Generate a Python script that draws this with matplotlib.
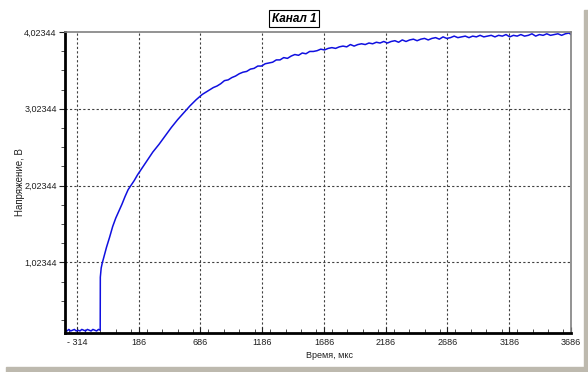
import matplotlib
matplotlib.use("Agg")
import matplotlib.pyplot as plt
from matplotlib.ticker import FixedLocator, MultipleLocator
from matplotlib.patches import Rectangle

plt.rcParams['font.family'] = ['Liberation Sans', 'DejaVu Sans']

# Канал 1: время (мкс) и напряжение (В)
t_base = [-411, -395, -380, -365, -350, -335, -320, -305, -290, -275, -260, -245, -230,
          -215, -200, -185, -170, -155, -140, -126]
v_base = [0.14, 0.13, 0.15, 0.13, 0.14, 0.15, 0.13, 0.14, 0.13, 0.15, 0.14, 0.13, 0.15,
          0.14, 0.13, 0.15, 0.14, 0.13, 0.15, 0.14]

t_jump = [-125, -118, -110]
v_jump = [0.83, 0.95, 1.01]

t_rise = [-100, -75, -50, -25, 0, 25, 50, 75, 100, 125, 150, 175, 200, 250, 300, 350, 400,
          450, 500, 550, 600, 650, 700, 730, 760, 790, 820, 850, 880, 910, 940, 970, 1000,
          1030, 1060, 1090, 1120, 1150, 1180, 1210, 1240, 1270, 1300, 1330, 1360, 1390,
          1420, 1450, 1480, 1510, 1540, 1570, 1600, 1630, 1660, 1690, 1720, 1750, 1780,
          1810, 1840, 1870, 1900, 1930, 1960, 1990, 2020, 2050, 2080, 2110, 2140, 2170,
          2200, 2230, 2260, 2290, 2320, 2350, 2380, 2410, 2440, 2470, 2500, 2530, 2560,
          2590, 2620, 2650, 2680, 2710, 2740, 2770, 2800, 2830, 2860, 2890, 2920, 2950,
          2980, 3010, 3040, 3070, 3100, 3130, 3160, 3190, 3220, 3250, 3280, 3310, 3340,
          3370, 3400, 3430, 3460, 3490, 3520, 3550, 3580, 3610, 3640, 3670, 3686]
v_rise = [1.07, 1.22, 1.35, 1.49, 1.60, 1.69, 1.78, 1.88, 1.97, 2.03, 2.09, 2.16, 2.22,
          2.34, 2.46, 2.56, 2.67, 2.78, 2.88, 2.97, 3.06, 3.14, 3.21, 3.24, 3.27, 3.30,
          3.32, 3.35, 3.39, 3.40, 3.43, 3.45, 3.48, 3.50, 3.51, 3.54, 3.55, 3.58, 3.58,
          3.61, 3.62, 3.63, 3.66, 3.66, 3.69, 3.68, 3.71, 3.73, 3.72, 3.75, 3.74, 3.77,
          3.77, 3.78, 3.80, 3.79, 3.81, 3.82, 3.81, 3.83, 3.84, 3.83, 3.86, 3.84, 3.86,
          3.87, 3.86, 3.88, 3.87, 3.89, 3.88, 3.90, 3.88, 3.90, 3.91, 3.89, 3.92, 3.90,
          3.92, 3.93, 3.91, 3.93, 3.94, 3.92, 3.94, 3.95, 3.93, 3.96, 3.94, 3.95, 3.97,
          3.95, 3.96, 3.97, 3.95, 3.97, 3.96, 3.98, 3.96, 3.97, 3.98, 3.96, 3.98, 3.97,
          3.99, 3.96, 3.98, 3.97, 3.99, 3.97, 3.98, 4.00, 3.97, 3.99, 3.98, 4.00, 3.98,
          3.99, 4.00, 3.98, 4.00, 4.01, 3.99]

x_ticks = [-314, 186, 686, 1186, 1686, 2186, 2686, 3186, 3686]
x_labels = ['- 314', '186', '686', '1186', '1686', '2186', '2686', '3186', '3686']
y_ticks = [1.02344, 2.02344, 3.02344, 4.02344]
y_labels = ['1,02344', '2,02344', '3,02344', '4,02344']

t = t_base + t_jump + t_rise
v = v_base + v_jump + v_rise

W, H = 588, 372
fig = plt.figure(figsize=(W / 100, H / 100), dpi=100)
fig.patch.set_facecolor('white')

# серая "тень" окна справа и снизу
shade = '#bdb9ae'
fig.patches.append(Rectangle((584 / W, 0), 4 / W, (H - 10) / H, transform=fig.transFigure,
                             color=shade, zorder=0))
fig.patches.append(Rectangle((6 / W, 0), 1, 5 / H, transform=fig.transFigure,
                             color=shade, zorder=0))

ax = fig.add_axes([65 / W, (H - 332.5) / H, (571 - 65) / W, (332.5 - 32) / H])
ax.plot(t, v, color='#1010e0', lw=1.1)

ax.set_xlim(-411, 3686)
ax.set_ylim(0.11, 4.02344)

ax.xaxis.set_major_locator(FixedLocator(x_ticks))
ax.set_xticklabels(x_labels)
ax.xaxis.set_minor_locator(MultipleLocator(125))
ax.yaxis.set_major_locator(FixedLocator(y_ticks))
ax.set_yticklabels(y_labels)
ax.yaxis.set_minor_locator(FixedLocator([0.27344 + 0.25 * k for k in range(16)]))

ax.tick_params(axis='x', which='major', direction='in', length=4, width=0.8,
               labelsize=6.5, pad=4, colors='#202020')
ax.tick_params(axis='x', which='minor', direction='in', length=3, width=0.6, color='#303030')
ax.tick_params(axis='y', which='major', direction='out', length=4, width=0.8,
               labelsize=6.5, pad=2, colors='#202020')
ax.tick_params(axis='y', which='minor', direction='out', length=3, width=0.6, color='#303030')

for s in ['left', 'bottom']:
    ax.spines[s].set_color('black')
    ax.spines[s].set_linewidth(2)
for s in ['top', 'right']:
    ax.spines[s].set_color('#808080')
    ax.spines[s].set_linewidth(1.2)

for x in x_ticks[:-1]:
    ax.axvline(x, color='#404040', lw=0.8, ls=(0, (2, 2)), zorder=0)
for y in y_ticks[:-1]:
    ax.axhline(y, color='#404040', lw=0.8, ls=(0, (2, 2)), zorder=0)

fig.text(294 / W, 1 - 18.5 / H, 'Канал 1', ha='center', va='center', fontsize=8.5,
         fontweight='bold', fontstyle='italic',
         bbox=dict(boxstyle='square,pad=0.25', fc='white', ec='black', lw=0.8))
fig.text(330 / W, 1 - 356 / H, 'Время, мкс', ha='center', va='center', fontsize=6.5, color='#202020')
fig.text(20 / W, 1 - 182 / H, 'Напряжение, В', ha='center', va='center', fontsize=7,
         rotation=90, color='#202020')

fig.savefig('out.png', dpi=100, facecolor='white')
